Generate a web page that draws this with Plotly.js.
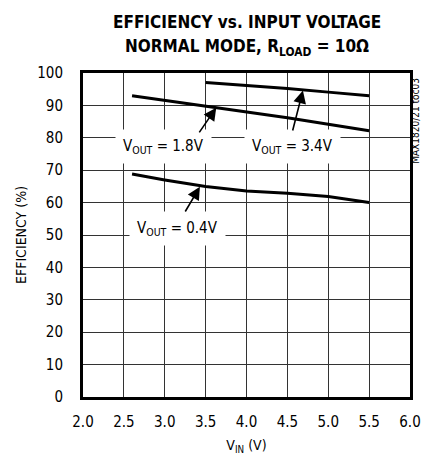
<!DOCTYPE html>
<html>
<head>
<meta charset="utf-8">
<script src="https://cdn.plot.ly/plotly-3.0.1.min.js"></script>
<style>html,body{margin:0;padding:0;background:#fff}#chart{width:422px;height:455px}</style>
</head>
<body>
<div id="chart"></div>
<script>
// Data
const vin34 = [3.5, 4.0, 4.5, 5.0, 5.5];
const eff34 = [97.1, 96.2, 95.2, 94.1, 93.0];
const vin18 = [2.6, 3.0, 3.5, 4.0, 4.5, 5.0, 5.5];
const eff18 = [93.0, 91.6, 89.7, 87.9, 86.2, 84.2, 82.2];
const vin04 = [2.6, 3.0, 3.5, 4.0, 4.5, 5.0, 5.5];
const eff04 = [68.8, 67.0, 65.0, 63.6, 62.9, 61.9, 60.0];
const xTicks = [2.0, 2.5, 3.0, 3.5, 4.0, 4.5, 5.0, 5.5, 6.0];
const yTicks = [0, 10, 20, 30, 40, 50, 60, 70, 80, 90, 100];
const seriesLabels = ["V<sub>OUT</sub> = 3.4V", "V<sub>OUT</sub> = 1.8V", "V<sub>OUT</sub> = 0.4V"];
const titleLines = ["EFFICIENCY vs. INPUT VOLTAGE", "NORMAL MODE, R<sub>LOAD</sub> = 10Ω"];

const FONT = '"DejaVu Sans Condensed", "Liberation Sans Narrow", "Arial Narrow", sans-serif';
const lineStyle = {color: '#000', width: 3};

const traces = [
  {x: vin34, y: eff34, mode: 'lines', line: lineStyle, name: seriesLabels[0], hoverinfo: 'skip'},
  {x: vin18, y: eff18, mode: 'lines', line: lineStyle, name: seriesLabels[1], hoverinfo: 'skip'},
  {x: vin04, y: eff04, mode: 'lines', line: lineStyle, name: seriesLabels[2], hoverinfo: 'skip'}
];

function label(text, x, y) {
  return {text: text, x: x, y: y, xref: 'x', yref: 'y', showarrow: false,
    bgcolor: '#fff', borderpad: 7, font: {family: FONT, size: 15, color: '#000'}};
}
function arrow(tx, ty, hx, hy) {
  return {text: '', x: hx, y: hy, ax: tx, ay: ty, xref: 'x', yref: 'y', axref: 'x', ayref: 'y',
    showarrow: true, arrowhead: 2, arrowsize: 1.6, arrowwidth: 1.6, arrowcolor: '#000', standoff: 0, startstandoff: 0};
}
function titleLine(text, yPix) {
  return {text: '<b>' + text + '</b>', xref: 'paper', yref: 'paper', x: 0.5, xanchor: 'center',
    y: 1 + (73 - yPix) / 324, yanchor: 'middle', showarrow: false,
    font: {family: FONT, size: 17, color: '#000'}};
}

const layout = {
  width: 422, height: 455,
  margin: {l: 83, r: 12, t: 73, b: 58},
  paper_bgcolor: '#fff', plot_bgcolor: '#fff',
  showlegend: false,
  font: {family: FONT, color: '#000', size: 15},
  xaxis: {
    range: [2, 6], tickvals: xTicks, ticktext: xTicks.map(v => v.toFixed(1)),
    showgrid: true, gridcolor: '#333', gridwidth: 1, zeroline: false,
    showline: true, linecolor: '#000', linewidth: 3, mirror: true,
    ticks: '', ticklabelstandoff: 9,
    tickfont: {family: FONT, size: 15, color: '#000'},
    title: {text: 'V<sub>IN</sub> (V)', font: {family: FONT, size: 14, color: '#000'}, standoff: 16}
  },
  yaxis: {
    range: [0, 100], tickvals: yTicks,
    showgrid: true, gridcolor: '#333', gridwidth: 1, zeroline: false,
    showline: true, linecolor: '#000', linewidth: 3, mirror: true,
    ticks: '', ticklabelstandoff: 14,
    tickfont: {family: FONT, size: 15, color: '#000'},
    title: {text: 'EFFICIENCY (%)', font: {family: FONT, size: 14, color: '#000'}, standoff: 8}
  },
  annotations: [
    titleLine(titleLines[0], 22),
    titleLine(titleLines[1], 47),
    label(seriesLabels[1], 2.98, 77.2),
    label(seriesLabels[0], 4.56, 77.2),
    label(seriesLabels[2], 3.15, 51.9),
    arrow(3.41, 81.2, 3.63, 89.3),
    arrow(4.56, 81.8, 4.69, 94.6),
    arrow(3.24, 56.8, 3.43, 64.9),
    {text: 'MAX1820/21 toc03', xref: 'paper', yref: 'paper', x: 1.018, xanchor: 'center', y: 0.852, yanchor: 'middle',
     showarrow: false, textangle: -90, font: {family: FONT, size: 10, color: '#000'}}
  ]
};

Plotly.newPlot('chart', traces, layout, {staticPlot: true, displayModeBar: false});
</script>
</body>
</html>
